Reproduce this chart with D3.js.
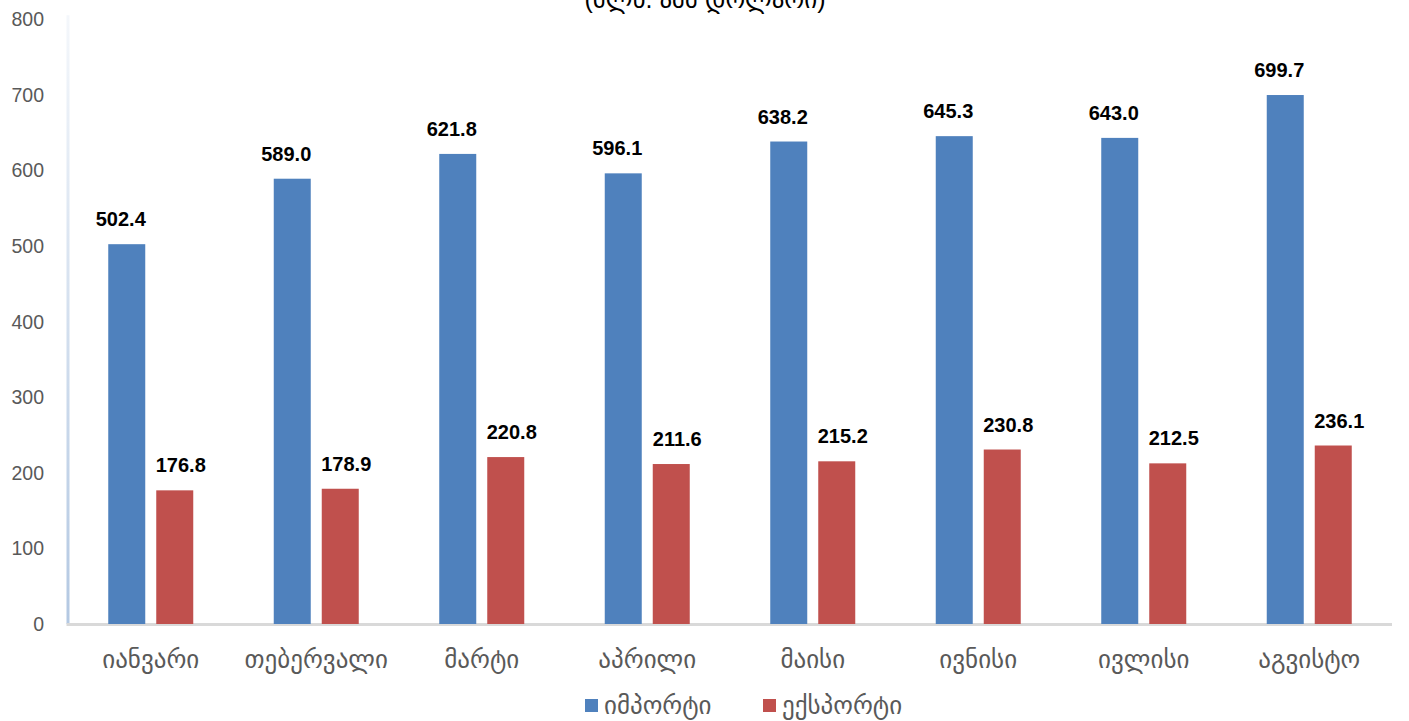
<!DOCTYPE html>
<html>
<head>
<meta charset="utf-8">
<script src="https://cdn.jsdelivr.net/npm/d3@7"></script>
<style>
  body { margin: 0; background: #fff; }
  text { font-family: "Liberation Sans", "DejaVu Sans", sans-serif; }
</style>
</head>
<body>
<script>
const w = 1409;
const h = 721;
const months = ["იანვარი", "თებერვალი", "მარტი", "აპრილი", "მაისი", "ივნისი", "ივლისი", "აგვისტო"];
const imports = [502.4, 589.0, 621.8, 596.1, 638.2, 645.3, 643.0, 699.7];
const exports = [176.8, 178.9, 220.8, 211.6, 215.2, 230.8, 212.5, 236.1];
const seriesNames = ["იმპორტი", "ექსპორტი"];
const colors = ["#4f81bd", "#c0504d"];
const yTicks = [0, 100, 200, 300, 400, 500, 600, 700, 800];

const plotLeft = 68, plotRight = 1392, plotTop = 19.2, plotBottom = 624;

const svg = d3.select("body").append("svg").attr("width", w).attr("height", h);

// gradient for the y axis line
const defs = svg.append("defs");
const grad = defs.append("linearGradient").attr("id", "axisGrad")
	.attr("x1", 0).attr("y1", 0).attr("x2", 0).attr("y2", 1);
grad.append("stop").attr("offset", "0%").attr("stop-color", "#f4f7fb");
grad.append("stop").attr("offset", "100%").attr("stop-color", "#b3c8e2");

const x = d3.scaleBand().domain(months).range([plotLeft, plotRight]);
const y = d3.scaleLinear().domain([0, 800]).range([plotBottom, plotTop]);
const barW = 37, gap = 11;

// title (cut off at the top, as in the original)
svg.append("text")
	.attr("x", 705).attr("y", 8)
	.attr("text-anchor", "middle")
	.attr("font-family", "DejaVu Sans")
	.style("font-size", "25px").attr("fill", "#000")
	.text("(მლნ. აშშ დოლარი)");

// y tick labels
svg.selectAll(".ytick").data(yTicks).enter().append("text")
	.attr("class", "ytick")
	.attr("x", 44).attr("y", d => y(d) + 7)
	.attr("text-anchor", "end")
	.style("font-size", "19.5px").attr("fill", "#595959")
	.text(d => d);

// axis lines
svg.append("rect").attr("x", plotLeft - 1.5).attr("y", y(800) - 4)
	.attr("width", 3).attr("height", plotBottom - y(800) + 4)
	.attr("fill", "url(#axisGrad)");
svg.append("line").attr("x1", plotLeft - 1.5).attr("x2", plotRight)
	.attr("y1", plotBottom + 0.5).attr("y2", plotBottom + 0.5)
	.attr("stroke", "#d9d9d9").attr("stroke-width", 3);

const series = [imports, exports];
series.forEach((vals, si) => {
	const g = svg.append("g");
	const xs = (d, i) => x(months[i]) + x.bandwidth() / 2 + (si === 0 ? -gap / 2 - barW : gap / 2);
	g.selectAll("rect").data(vals).enter().append("rect")
		.attr("x", xs)
		.attr("y", d => y(d))
		.attr("width", barW)
		.attr("height", d => plotBottom - y(d))
		.attr("fill", colors[si]);
	g.selectAll("text").data(vals).enter().append("text")
		.attr("x", (d, i) => xs(d, i) + barW / 2 + (si === 0 ? -6 : 6))
		.attr("y", d => y(d) - 18)
		.attr("text-anchor", "middle")
		.style("font-size", "20px").style("font-weight", "bold").attr("fill", "#000")
		.text(d => d.toFixed(1));
});

// x labels
svg.selectAll(".xlab").data(months).enter().append("text")
	.attr("class", "xlab")
	.attr("x", d => x(d) + x.bandwidth() / 2)
	.attr("y", 668)
	.attr("text-anchor", "middle")
	.attr("font-family", "DejaVu Sans")
	.style("font-size", "25px").attr("fill", "#595959")
	.text(d => d);

// legend
const legendX = [585, 763];
seriesNames.forEach((name, i) => {
	svg.append("rect").attr("x", legendX[i]).attr("y", 699)
		.attr("width", 13).attr("height", 13).attr("fill", colors[i]);
	svg.append("text").attr("x", legendX[i] + 19).attr("y", 714)
		.attr("font-family", "DejaVu Sans")
		.style("font-size", "25px").attr("fill", "#595959")
		.text(name);
});
</script>
</body>
</html>
